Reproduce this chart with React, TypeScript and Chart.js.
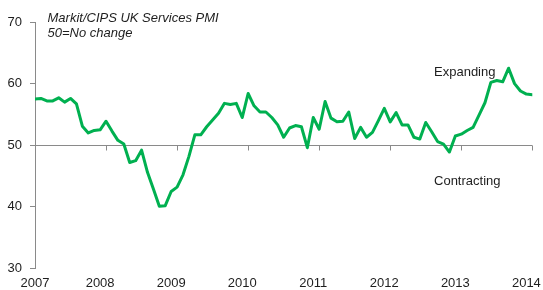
import React, { useEffect, useRef } from "react";
import { Chart, registerables } from "chart.js";

Chart.register(...registerables);

// Monthly Markit/CIPS UK Services PMI, Feb 2007 .. Feb 2014
const pmiValues: number[] = [
  57.5, 57.6, 57.2, 57.2, 57.7, 57.0, 57.6, 56.7, 53.1, 52.0, 52.4,
  52.5, 53.9, 52.3, 50.8, 50.2, 47.2, 47.5, 49.2, 45.6, 42.9, 40.1, 40.2,
  42.5, 43.2, 45.2, 48.2, 51.7, 51.7, 53.0, 54.1, 55.2, 56.8, 56.6, 56.8,
  54.5, 58.4, 56.4, 55.4, 55.4, 54.5, 53.3, 51.3, 52.8, 53.2, 53.0, 49.6,
  54.5, 52.6, 57.1, 54.4, 53.8, 53.9, 55.4, 51.1, 52.9, 51.3, 52.1, 54.0,
  56.0, 53.8, 55.3, 53.3, 53.3, 51.3, 51.0, 53.7, 52.2, 50.6, 50.2, 48.9,
  51.5, 51.8, 52.4, 52.9, 54.9, 56.9, 60.2, 60.5, 60.3, 62.5, 60.0, 58.8,
  58.3, 58.2,
];

const yearLabels: string[] = ["2007", "2008", "2009", "2010", "2011", "2012", "2013", "2014"];
const yearLabelMonths: number[] = [0, 11, 23, 35, 47, 59, 71, 83];
const yearTickMonths: number[] = [12, 24, 36, 48, 60, 72, 84];
const yMin = 30;
const yMax = 70;
const yStep = 10;
const baselineValue = 50;
const titleLines: string[] = ["Markit/CIPS UK Services PMI", "50=No change"];
const expandingLabel = { text: "Expanding", month: 67.4, value: 61.25 };
const contractingLabel = { text: "Contracting", month: 67.4, value: 43.6 };

const FONT = "'Liberation Sans', Arial, Helvetica, sans-serif";
const TEXT_COLOR = "#1e1e1e";
const AXIS_COLOR = "#8a8a8a";
const LINE_COLOR = "#00b050";

const overlayPlugin = {
  id: "pmiOverlay",
  beforeDatasetsDraw(chart: any) {
    const { ctx, chartArea, scales } = chart;
    const y50 = Math.round(scales.y.getPixelForValue(baselineValue)) + 0.5;
    ctx.save();
    ctx.strokeStyle = AXIS_COLOR;
    ctx.lineWidth = 1;
    ctx.beginPath();
    ctx.moveTo(chartArea.left, y50);
    ctx.lineTo(chartArea.right, y50);
    for (const m of yearTickMonths) {
      const x = Math.round(scales.x.getPixelForValue(m)) + 0.5;
      ctx.moveTo(x, y50);
      ctx.lineTo(x, y50 + 5);
    }
    ctx.stroke();
    ctx.restore();
  },
  afterDraw(chart: any) {
    const { ctx, scales } = chart;
    ctx.save();
    ctx.fillStyle = TEXT_COLOR;
    ctx.textAlign = "left";
    ctx.textBaseline = "alphabetic";
    ctx.font = `italic 13px ${FONT}`;
    ctx.fillText(titleLines[0], 47.5, 21.7);
    ctx.fillText(titleLines[1], 47.5, 36.7);
    ctx.font = `13px ${FONT}`;
    for (const lab of [expandingLabel, contractingLabel]) {
      ctx.fillText(
        lab.text,
        scales.x.getPixelForValue(lab.month),
        scales.y.getPixelForValue(lab.value)
      );
    }
    ctx.restore();
  },
};

export default function App() {
  const canvasRef = useRef<HTMLCanvasElement | null>(null);

  useEffect(() => {
    if (!canvasRef.current) return;
    const data = pmiValues.map((v, i) => ({ x: i, y: v }));
    const chart = new Chart(canvasRef.current, {
      type: "line",
      data: {
        datasets: [
          {
            label: "UK Services PMI",
            data,
            borderColor: LINE_COLOR,
            backgroundColor: LINE_COLOR,
            borderWidth: 3,
            pointRadius: 0,
            tension: 0,
            borderJoinStyle: "round",
            borderCapStyle: "round",
          },
        ],
      },
      options: {
        animation: false,
        responsive: false,
        maintainAspectRatio: false,
        layout: { padding: { top: 22, right: 10.7, left: 0, bottom: 0 } },
        plugins: {
          legend: { display: false },
          tooltip: { enabled: false },
          title: { display: false },
        },
        scales: {
          x: {
            type: "linear",
            min: 0,
            max: pmiValues.length - 1,
            afterBuildTicks: (s: any) => {
              s.ticks = yearLabelMonths.map((v) => ({ value: v }));
            },
            afterFit: (s: any) => {
              s.height = 21.5;
              s.paddingLeft = 0;
              s.paddingRight = 0;
            },
            ticks: {
              autoSkip: false,
              maxRotation: 0,
              minRotation: 0,
              padding: 7.5,
              color: TEXT_COLOR,
              font: { family: FONT, size: 13 },
              callback: (v: any) => {
                const idx = yearLabelMonths.indexOf(Number(v));
                return idx >= 0 ? yearLabels[idx] : "";
              },
            },
            grid: { display: false, drawTicks: false },
            border: { display: false },
          },
          y: {
            min: yMin,
            max: yMax,
            afterFit: (s: any) => {
              s.width = 35;
            },
            ticks: {
              stepSize: yStep,
              padding: 8,
              color: TEXT_COLOR,
              font: { family: FONT, size: 13 },
            },
            grid: {
              drawOnChartArea: false,
              drawTicks: true,
              tickLength: 5,
              color: AXIS_COLOR,
            },
            border: { display: true, color: AXIS_COLOR, width: 1 },
          },
        },
      },
      plugins: [overlayPlugin],
    });
    return () => chart.destroy();
  }, []);

  return (
    <div
      style={{
        position: "fixed",
        left: 0,
        top: 0,
        width: 543,
        height: 290,
        background: "#ffffff",
      }}
    >
      <canvas ref={canvasRef} width={543} height={290} style={{ width: 543, height: 290 }} />
    </div>
  );
}
